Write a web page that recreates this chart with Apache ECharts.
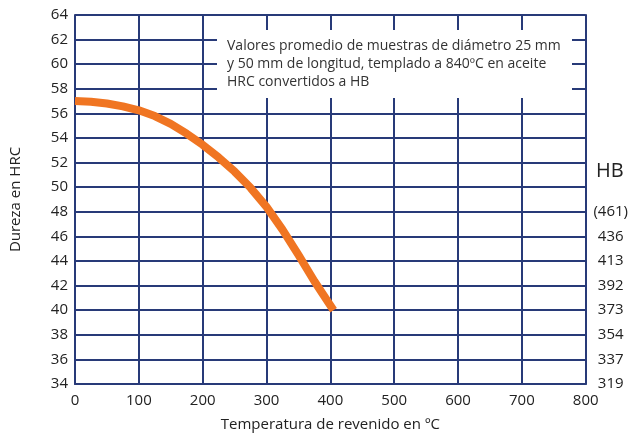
<!DOCTYPE html>
<html>
<head>
<meta charset="utf-8">
<script src="https://cdn.jsdelivr.net/npm/echarts@6/dist/echarts.min.js"></script>
<style>
html,body{margin:0;padding:0;background:#fff;}
#chart{width:631px;height:437px;}
</style>
</head>
<body>
<div id="chart"></div>
<script>
// Data
var temperatures = [0, 25, 50, 75, 100, 125, 150, 175, 200, 225, 250, 275, 300, 325, 350, 375, 405];
var hardnessHRC = [57.0, 56.95, 56.8, 56.57, 56.25, 55.78, 55.15, 54.35, 53.45, 52.42, 51.27, 49.95, 48.4, 46.55, 44.5, 42.35, 40.0];
var hrcTicks = [34, 36, 38, 40, 42, 44, 46, 48];
var hbLabels = ['319', '337', '354', '373', '392', '413', '436', '(461)'];
var noteLines = [
  'Valores promedio de muestras de diámetro 25 mm',
  'y 50 mm de longitud, templado a 840ºC en aceite',
  'HRC convertidos a HB'
];

var FONT = 'Open Sans';
var GRID = '#283a78';
var TXT = '#222222';

var seriesData = temperatures.map(function (t, i) { return [t, hardnessHRC[i]]; });
var hbMap = {};
hrcTicks.forEach(function (v, i) { hbMap[v] = hbLabels[i]; });

var chart = echarts.init(document.getElementById('chart'), null, {renderer: 'canvas'});
chart.setOption({
  animation: false,
  backgroundColor: '#ffffff',
  textStyle: {fontFamily: FONT},
  grid: {left: 73, right: 43, top: 15, bottom: 52, containLabel: false},
  xAxis: {
    type: 'value', min: 0, max: 800, interval: 100,
    name: 'Temperatura de revenido en ºC', nameLocation: 'middle', nameGap: 33,
    nameTextStyle: {fontFamily: FONT, fontSize: 15, color: TXT},
    axisLine: {show: true, lineStyle: {color: GRID, width: 2}},
    axisTick: {show: false},
    axisLabel: {fontFamily: FONT, fontSize: 15, color: TXT, margin: 9},
    splitLine: {show: true, lineStyle: {color: GRID, width: 2}}
  },
  yAxis: [{
    type: 'value', min: 34, max: 64, interval: 2,
    name: 'Dureza en HRC', nameLocation: 'middle', nameGap: 52, nameRotate: 90,
    nameTextStyle: {fontFamily: FONT, fontSize: 15, color: TXT},
    axisLine: {show: true, lineStyle: {color: GRID, width: 2}},
    axisTick: {show: false},
    axisLabel: {fontFamily: FONT, fontSize: 15, color: TXT, margin: 7},
    splitLine: {show: true, lineStyle: {color: GRID, width: 2}}
  }, {
    type: 'value', min: 34, max: 64, interval: 2, position: 'right',
    axisLine: {show: true, lineStyle: {color: GRID, width: 2}},
    axisTick: {show: false},
    splitLine: {show: false},
    axisLabel: {
      fontFamily: FONT, fontSize: 15, color: TXT, margin: 25, align: 'center',
      formatter: function (v) { return hbMap[v] || ''; }
    }
  }],
  graphic: [{
    type: 'rect', z: 100,
    shape: {x: 217, y: 30, width: 355, height: 68},
    style: {fill: '#ffffff'}
  }, {
    type: 'text', z: 101, left: 227, top: 37,
    style: {
      text: noteLines.join('\n'), fill: '#333333',
      font: '14px "' + FONT + '"', lineHeight: 18
    }
  }, {
    type: 'text', z: 101, left: 596, top: 161,
    style: {text: 'HB', fill: TXT, font: '20px "' + FONT + '"'}
  }],
  series: [{
    type: 'line', data: seriesData, smooth: false,
    showSymbol: false, symbol: 'none',
    lineStyle: {color: '#f07522', width: 8, cap: 'butt', join: 'round'},
    z: 50
  }]
});
</script>
</body>
</html>
